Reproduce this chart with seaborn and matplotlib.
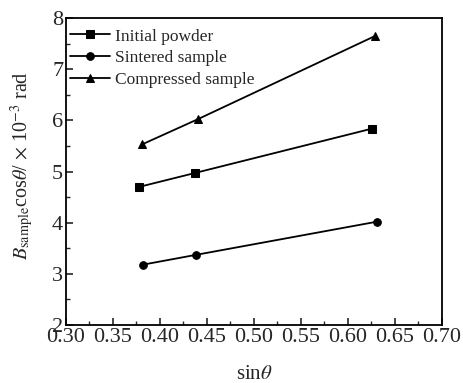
import pandas as pd
import seaborn as sns
import matplotlib as mpl
import matplotlib.pyplot as plt
from matplotlib.ticker import MultipleLocator

# data
sin_initial = [0.378, 0.437, 0.626]
b_initial = [4.70, 4.97, 5.84]
sin_sintered = [0.382, 0.438, 0.631]
b_sintered = [3.18, 3.37, 4.02]
sin_compressed = [0.381, 0.440, 0.629]
b_compressed = [5.53, 6.02, 7.65]

labels = ["Initial powder", "Sintered sample", "Compressed sample"]
markers = ["s", "o", "^"]
xtick_labels = ["0.30", "0.35", "0.40", "0.45", "0.50", "0.55", "0.60", "0.65", "0.70"]

df = pd.concat([
    pd.DataFrame({"x": sin_initial, "y": b_initial, "sample": labels[0]}),
    pd.DataFrame({"x": sin_sintered, "y": b_sintered, "sample": labels[1]}),
    pd.DataFrame({"x": sin_compressed, "y": b_compressed, "sample": labels[2]}),
])

sns.set_style("ticks")
mpl.rcParams["font.family"] = ["Liberation Serif", "DejaVu Serif"]
mpl.rcParams["mathtext.fontset"] = "stix"

fig = plt.figure(figsize=(4.63, 3.83), dpi=100)
ax = fig.add_axes([0.1425, 0.1514, 0.8121, 0.8016])

for lab, mk in zip(labels, markers):
    sub = df[df["sample"] == lab]
    sns.lineplot(data=sub, x="x", y="y", ax=ax, color="black", marker=mk,
                 markersize=5.5, markeredgecolor="black", linewidth=1.3,
                 label=lab, sort=False)

ax.set_xlim(0.30, 0.70)
ax.set_ylim(2, 8)
ax.xaxis.set_major_locator(MultipleLocator(0.05))
ax.xaxis.set_minor_locator(MultipleLocator(0.025))
ax.yaxis.set_major_locator(MultipleLocator(1))
ax.yaxis.set_minor_locator(MultipleLocator(0.5))
ax.set_xticks([float(t) for t in xtick_labels])
ax.set_xticklabels(xtick_labels)
ax.tick_params(which="major", direction="in", length=5, width=1.2, labelsize=16, pad=2)
ax.tick_params(which="minor", direction="in", length=3, width=1.0)
for sp in ax.spines.values():
    sp.set_linewidth(1.3)
    sp.set_color("black")

ax.set_xlabel(r"sin$\mathit{\theta}$", fontsize=15, labelpad=13)
ax.set_ylabel(r"$\mathit{B}_{\mathrm{sample}}$cos$\mathit{\theta}$/ $\times$ 10$^{-3}$ rad",
              fontsize=14.5)
ax.yaxis.set_label_coords(-0.08, 0.52)

ax.legend(loc="upper left", bbox_to_anchor=(-0.016, 1.0), frameon=False,
          fontsize=12.5, handlelength=2.3, handletextpad=0.25,
          labelspacing=0.32, borderaxespad=0.3, borderpad=0.3)

fig.savefig("out.png", dpi=100)
